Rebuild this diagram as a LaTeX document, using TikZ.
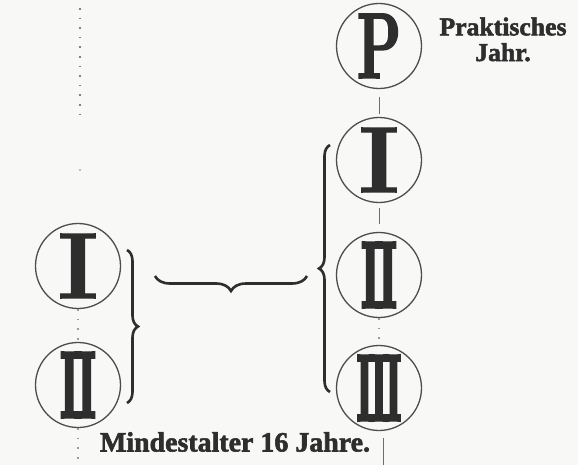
\documentclass[tikz,border=0pt]{standalone}
\usepackage{fontspec}
\usetikzlibrary{decorations.pathreplacing}
\newfontfamily\numI{lmroman10-bold.otf}[FakeBold=1.2]
\newfontfamily\numP{lmroman10-bold.otf}[FakeStretch=0.6,FakeBold=1.5]
\newfontfamily\numII{lmroman10-bold.otf}[FakeStretch=0.4,FakeBold=3.5]
\newfontfamily\numIII{lmroman10-bold.otf}[FakeStretch=0.33,FakeBold=3.5]
\newfontfamily\labfont{Liberation Serif}[FakeBold=2]
\definecolor{ink}{HTML}{2E2E2E}
\definecolor{paper}{HTML}{F8F8F6}
\definecolor{faint}{HTML}{9A9A9A}
\begin{document}
\begin{tikzpicture}[x=1pt,y=-1pt,
  ring/.style={draw=ink!85, line width=1.3pt, circle, minimum size=85pt, inner sep=0pt, text=ink, font=\fontsize{94}{94}\selectfont},
  bracestyle/.style={draw=ink, line width=2.6pt, decorate, decoration={brace, amplitude=#1}},
  link/.style={draw=ink!70, line width=1pt},
  dotlink/.style={draw=faint, line width=1.6pt, dash pattern=on 1.6pt off 8pt},
  frak/.style={text=ink, inner sep=0pt, font=\labfont\bfseries}
]
\fill[paper] (0,0) rectangle (578,465);
\useasboundingbox (0,0) rectangle (578,465);

% circles
\node[ring] (P) at (379,46) {\numP P};
\node[ring] (RI) at (379,160) {\numI I};
\node[ring] (RII) at (379,275) {\numII II};
\node[ring] (RIII) at (379,388) {\numIII III};
\node[ring] (LI) at (78,266) {\numI I};
\node[ring] (LII) at (78,385) {\numII II};

% texts
\node[frak] (prak) at (503,42) {\resizebox{127pt}{!}{\begin{tabular}{@{}c@{}}Praktisches\\[-2pt]Jahr.\end{tabular}}};
\node[frak] (mind) at (235,442) {\resizebox{270pt}{!}{Mindestalter 16 Jahre.}};

% connectors
\draw[link, shorten <=8pt, shorten >=3pt] (P) -- (RI);
\draw[link, shorten <=5pt, shorten >=8pt] (RI) -- (RII);
\draw[dotlink] (RII) -- (RIII);
\draw[dotlink] (LI) -- (LII);
\coordinate (lbot) at (78,465);
\draw[dotlink] (LII) -- (lbot);
\coordinate (rbtop) at (383,438);
\coordinate (rbbot) at (383,465);
\draw[link] (rbtop) -- (rbbot);
\coordinate (dtop) at (80,8);
\coordinate (dbot) at (80,120);
\draw[dotlink, draw=ink!60] (dtop) -- (dbot);
\fill[ink!60] (80,170) circle (0.9pt);

% braces
\coordinate (bigA) at (330,392);
\coordinate (bigB) at (330,145);
\draw[bracestyle=11pt] (bigA) -- (bigB);
\coordinate (hA) at (307,276);
\coordinate (hB) at (155,276);
\draw[bracestyle=15pt] (hA) -- (hB);
\coordinate (sA) at (127,250);
\coordinate (sB) at (127,403);
\draw[bracestyle=11pt] (sA) -- (sB);
\end{tikzpicture}
\end{document}
